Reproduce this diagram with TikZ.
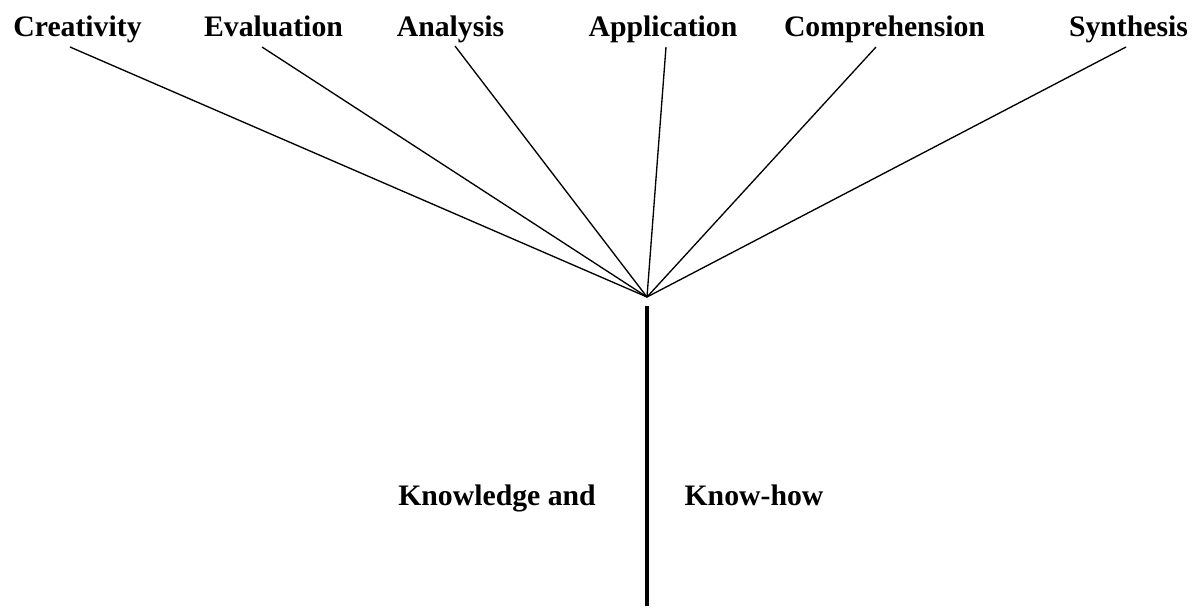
\documentclass[tikz,border=0pt]{standalone}
\usepackage{fontspec}
\setmainfont{Liberation Serif}
\begin{document}
\begin{tikzpicture}[x=0.75pt,y=-0.75pt,
  lbl/.style={font=\fontsize{22.3pt}{26pt}\selectfont\bfseries, anchor=base, inner sep=0pt},
  spoke/.style={line width=1pt, black},
  stem/.style={line width=2.3pt, black}]
\useasboundingbox (0,0) rectangle (1197,608);
% labels
\node[lbl] (cre) at (77.5,36) {Creativity};
\node[lbl] (eva) at (273.5,36) {Evaluation};
\node[lbl] (ana) at (450.5,36) {Analysis};
\node[lbl] (app) at (663,36) {Application};
\node[lbl] (com) at (884.5,36) {Comprehension};
\node[lbl] (syn) at (1128.5,36) {Synthesis};
\node[lbl] (know) at (497,505) {Knowledge and};
\node[lbl] (how) at (754,505) {Know-how};
% spoke ends
\coordinate (c1) at (70,47);
\coordinate (c2) at (262,47);
\coordinate (c3) at (455,46);
\coordinate (c4) at (666,47);
\coordinate (c5) at (876,47);
\coordinate (c6) at (1126,47);
\coordinate (apex) at (647,297);
\coordinate (stemtop) at (647,306);
\coordinate (stembot) at (647,606);
\foreach \c in {c1,c2,c3,c4,c5,c6} \draw[spoke] (\c) -- (apex);
\draw[stem] (stemtop) -- (stembot);
\end{tikzpicture}
\end{document}
